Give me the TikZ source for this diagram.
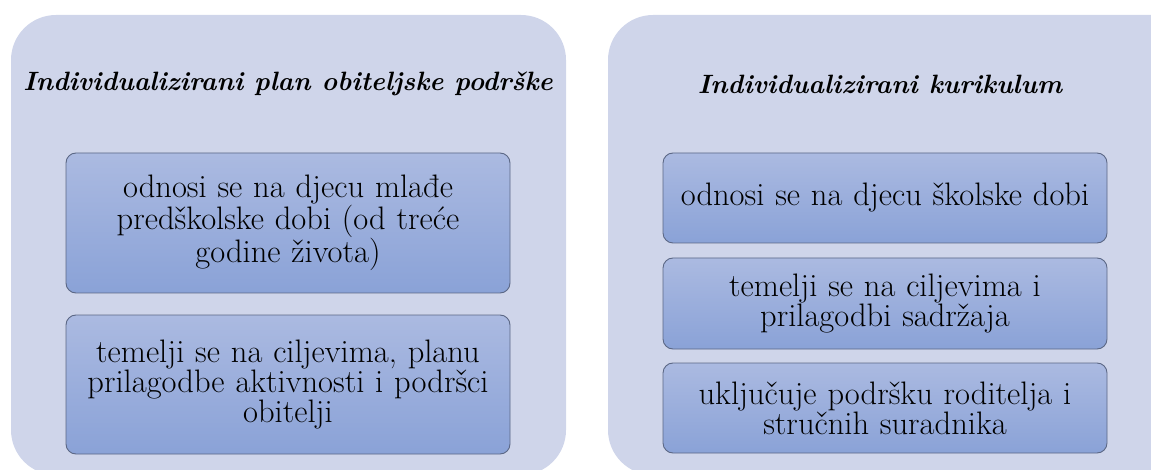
\documentclass[tikz,border=0pt]{standalone}
\usepackage{fontspec}
\definecolor{panelfill}{HTML}{CFD5EA}
\definecolor{boxtop}{HTML}{ABBAE1}
\definecolor{boxbot}{HTML}{8AA2D7}
\definecolor{boxline}{HTML}{5B6785}
\tikzset{
  panel/.style={fill=panelfill,rounded corners=45pt,inner sep=0pt},
  item/.style={draw=boxline,line width=.9pt,rounded corners=10pt,
    top color=boxtop,bottom color=boxbot,align=center,inner sep=0pt,
    font=\fontsize{32.5}{29}\selectfont},
  heading/.style={font=\fontsize{26.5}{32}\selectfont\bfseries\itshape}
}
\begin{document}
\begin{tikzpicture}[x=1pt,y=-1pt]
  \useasboundingbox (0,0) rectangle (1151,470);
  % panels
  \path[panel] (11,15) rectangle (566,475);
  \path[panel] (608,15) rectangle (1196,475);
  \node[heading] (plan) at (288,84) {Individualizirani plan obiteljske podrške};
  \node[heading] (kur) at (880,84) {Individualizirani kurikulum};
  % left column
  \node[item,minimum width=444pt,minimum height=140pt,text width=436pt] (p1) at (288,223)
    {odnosi se na djecu mlađe\\ predškolske dobi (od treće\\ godine života)};
  \node[item,minimum width=444pt,minimum height=139pt,text width=436pt] (p2) at (288,384.5)
    {temelji se na ciljevima, planu\\ prilagodbe aktivnosti i podršci\\ obitelji};
  % right column
  \node[item,minimum width=444pt,minimum height=90pt,text width=440pt] (k1) at (885,198)
    {odnosi se na djecu školske dobi};
  \node[item,minimum width=444pt,minimum height=91pt,text width=440pt] (k2) at (885,303.5)
    {temelji se na ciljevima i\\ prilagodbi sadržaja};
  \node[item,minimum width=444pt,minimum height=90pt,text width=440pt] (k3) at (885,408)
    {uključuje podršku roditelja i\\ stručnih suradnika};
\end{tikzpicture}
\end{document}
